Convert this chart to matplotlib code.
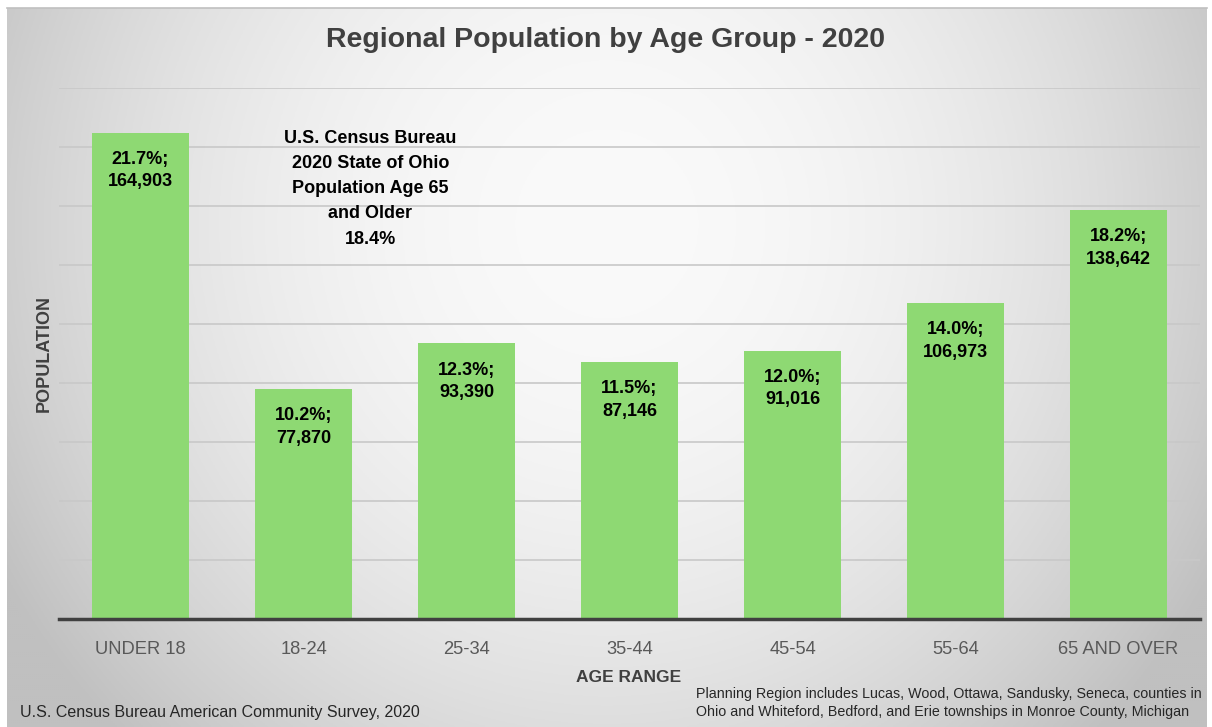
import numpy as np
import matplotlib.pyplot as plt

# data
age_groups = ["UNDER 18", "18-24", "25-34", "35-44", "45-54", "55-64", "65 AND OVER"]
population = [164903, 77870, 93390, 87146, 91016, 106973, 138642]
percent = [21.7, 10.2, 12.3, 11.5, 12.0, 14.0, 18.2]

sans = ["Liberation Sans", "DejaVu Sans"]
plt.rcParams["font.family"] = sans

W, H = 1212, 727
fig = plt.figure(figsize=(W / 100, H / 100), dpi=100)
fig.patch.set_facecolor("white")

# background gradient (light centre, grey edges)
bg = fig.add_axes([7 / W, 0, 1200 / W, 1 - 8 / H], zorder=-10)
xx, yy = np.meshgrid(np.linspace(0, 1, 600), np.linspace(0, 1, 360))
r2 = ((xx - 0.5) / 0.55) ** 2 + ((yy - 0.3) / 0.95) ** 2
val = np.clip(250 - 52 * r2, 192, 250) / 255
bg.imshow(np.dstack([val, val, val]), aspect="auto", extent=[0, 1, 1, 0])
bg.set_xlim(0, 1)
bg.set_ylim(1, 0)
bg.axis("off")
fig.add_artist(plt.Line2D([7 / W, 1207 / W], [1 - 8 / H, 1 - 8 / H],
                          color="#c0c0c0", lw=1.2))

ax = fig.add_axes([59 / W, 1 - 619 / H, 1141 / W, 531 / H])
ax.patch.set_alpha(0)

x = np.arange(len(age_groups))
ax.bar(x, population, width=0.6, color="#8ED973", zorder=3)

ax.set_xlim(-0.5, len(age_groups) - 0.5)
ax.set_ylim(0, 180000)
ax.set_yticks(np.arange(0, 180001, 20000))
ax.yaxis.grid(True, color="#c8c8c8", lw=1.2, zorder=0)
ax.set_axisbelow(True)
ax.tick_params(axis="y", left=False, labelleft=False)
ax.tick_params(axis="x", bottom=False, pad=12)
ax.set_xticks(x)
ax.set_xticklabels(age_groups, fontsize=13.2, color="#595959")
for s in ax.spines.values():
    s.set_visible(False)
ax.axhline(0, color="#404040", lw=2.5, zorder=4, clip_on=False)

for xi, v, p in zip(x, population, percent):
    ax.annotate(f"{p:.1f}%;\n{v:,}", (xi, v), xytext=(0, -13),
                textcoords="offset points", ha="center", va="top",
                fontsize=13, fontweight="bold", linespacing=1.45,
                color="black", zorder=5)

ax.text(1.41, 145800,
        "U.S. Census Bureau\n2020 State of Ohio\nPopulation Age 65\nand Older\n18.4%",
        ha="center", va="center", fontsize=13, fontweight="bold",
        linespacing=1.62, color="black")

fig.text(0.5, 1 - 40 / H, "Regional Population by Age Group - 2020",
         ha="center", va="center", fontsize=20.5, fontweight="bold",
         color="#404040")
fig.text(44 / W, 1 - 353 / H, "POPULATION", rotation=90, ha="center",
         va="center", fontsize=13, fontweight="bold", color="#404040")
fig.text(629 / W, 1 - 678 / H, "AGE RANGE", ha="center", va="center",
         fontsize=12.5, fontweight="bold", color="#404040")
fig.text(20 / W, 1 - 712 / H,
         "U.S. Census Bureau American Community Survey, 2020",
         ha="left", va="center", fontsize=11.5, color="#262626")
fig.text(696 / W, 1 - 703 / H,
         "Planning Region includes Lucas, Wood, Ottawa, Sandusky, Seneca, counties in\n"
         "Ohio and Whiteford, Bedford, and Erie townships in Monroe County, Michigan",
         ha="left", va="center", fontsize=10.3, linespacing=1.3,
         color="#262626")

fig.savefig("out.png", dpi=100)
